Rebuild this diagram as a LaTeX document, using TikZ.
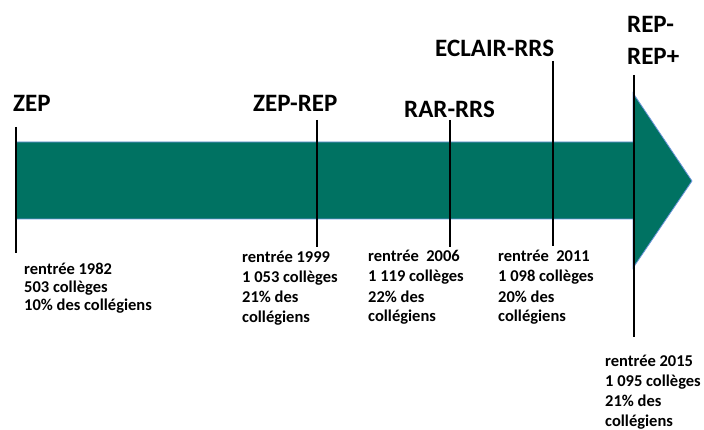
\documentclass[tikz,border=0pt]{standalone}
\usepackage{fontspec}
\setmainfont{Carlito}
\usepackage{xcolor}
\usepackage{tikz}
\definecolor{zepteal}{RGB}{0,114,98}
\definecolor{zepedge}{RGB}{110,150,220}

\begin{document}
\begin{tikzpicture}[x=1pt, y=-1pt,
        bigtitle/.style={anchor=base west, inner sep=0pt, align=left, font=\fontsize{25}{32}\selectfont\bfseries},
        facts/.style={anchor=base west, inner sep=0pt, align=left, font=\fontsize{16.5}{20}\selectfont\bfseries},
        tick/.style={line width=2pt, black}]
        \useasboundingbox (0,0) rectangle (704,430);
        % Main arrow
        \draw[fill=zepteal, draw=zepedge, line width=0.8pt]
            (16,142) -- (633,142) -- (633,93) -- (692,181) -- (633,268) -- (633,219) -- (16,219) -- cycle;

        % Ticks
        \coordinate (zepT) at (16,127);   \coordinate (zepB) at (16,253);
        \coordinate (repT) at (317,120);  \coordinate (repB) at (317,247);
        \coordinate (rarT) at (450,120);  \coordinate (rarB) at (450,247);
        \coordinate (eclT) at (553,61);   \coordinate (eclB) at (553,246);
        \coordinate (plusT) at (634,75);  \coordinate (plusB) at (634,337);
        \draw[tick] (zepT) -- (zepB);
        \draw[tick] (repT) -- (repB);
        \draw[tick] (rarT) -- (rarB);
        \draw[tick] (eclT) -- (eclB);
        \draw[tick] (plusT) -- (plusB);

        % Titles (base = last line)
        \node[bigtitle] (zep) at (13,112) {ZEP};
        \node[bigtitle] (zeprep) at (253,112) {ZEP-REP};
        \node[bigtitle] (rarrrs) at (404,118) {RAR-RRS};
        \node[bigtitle] (eclair) at (435,57) {ECLAIR-RRS};
        \node[bigtitle] (repplus) at (627,65) {REP-\\REP+};

        % Figures
        \node[facts, font=\fontsize{16.5}{18}\selectfont\bfseries] (f1982) at (24,311) {rentrée 1982\\503 collèges\\10\% des collégiens};
        \node[facts] (f1999) at (242,323) {rentrée 1999\\1 053 collèges\\21\% des\\collégiens};
        \node[facts] (f2006) at (368,322) {rentrée~ 2006\\1 119 collèges\\22\% des\\collégiens};
        \node[facts] (f2011) at (498,322) {rentrée~ 2011\\1 098 collèges\\20\% des\\collégiens};
        \node[facts] (f2015) at (605,426) {rentrée 2015\\1 095 collèges\\21\% des\\collégiens};
    \end{tikzpicture}
\end{document}
